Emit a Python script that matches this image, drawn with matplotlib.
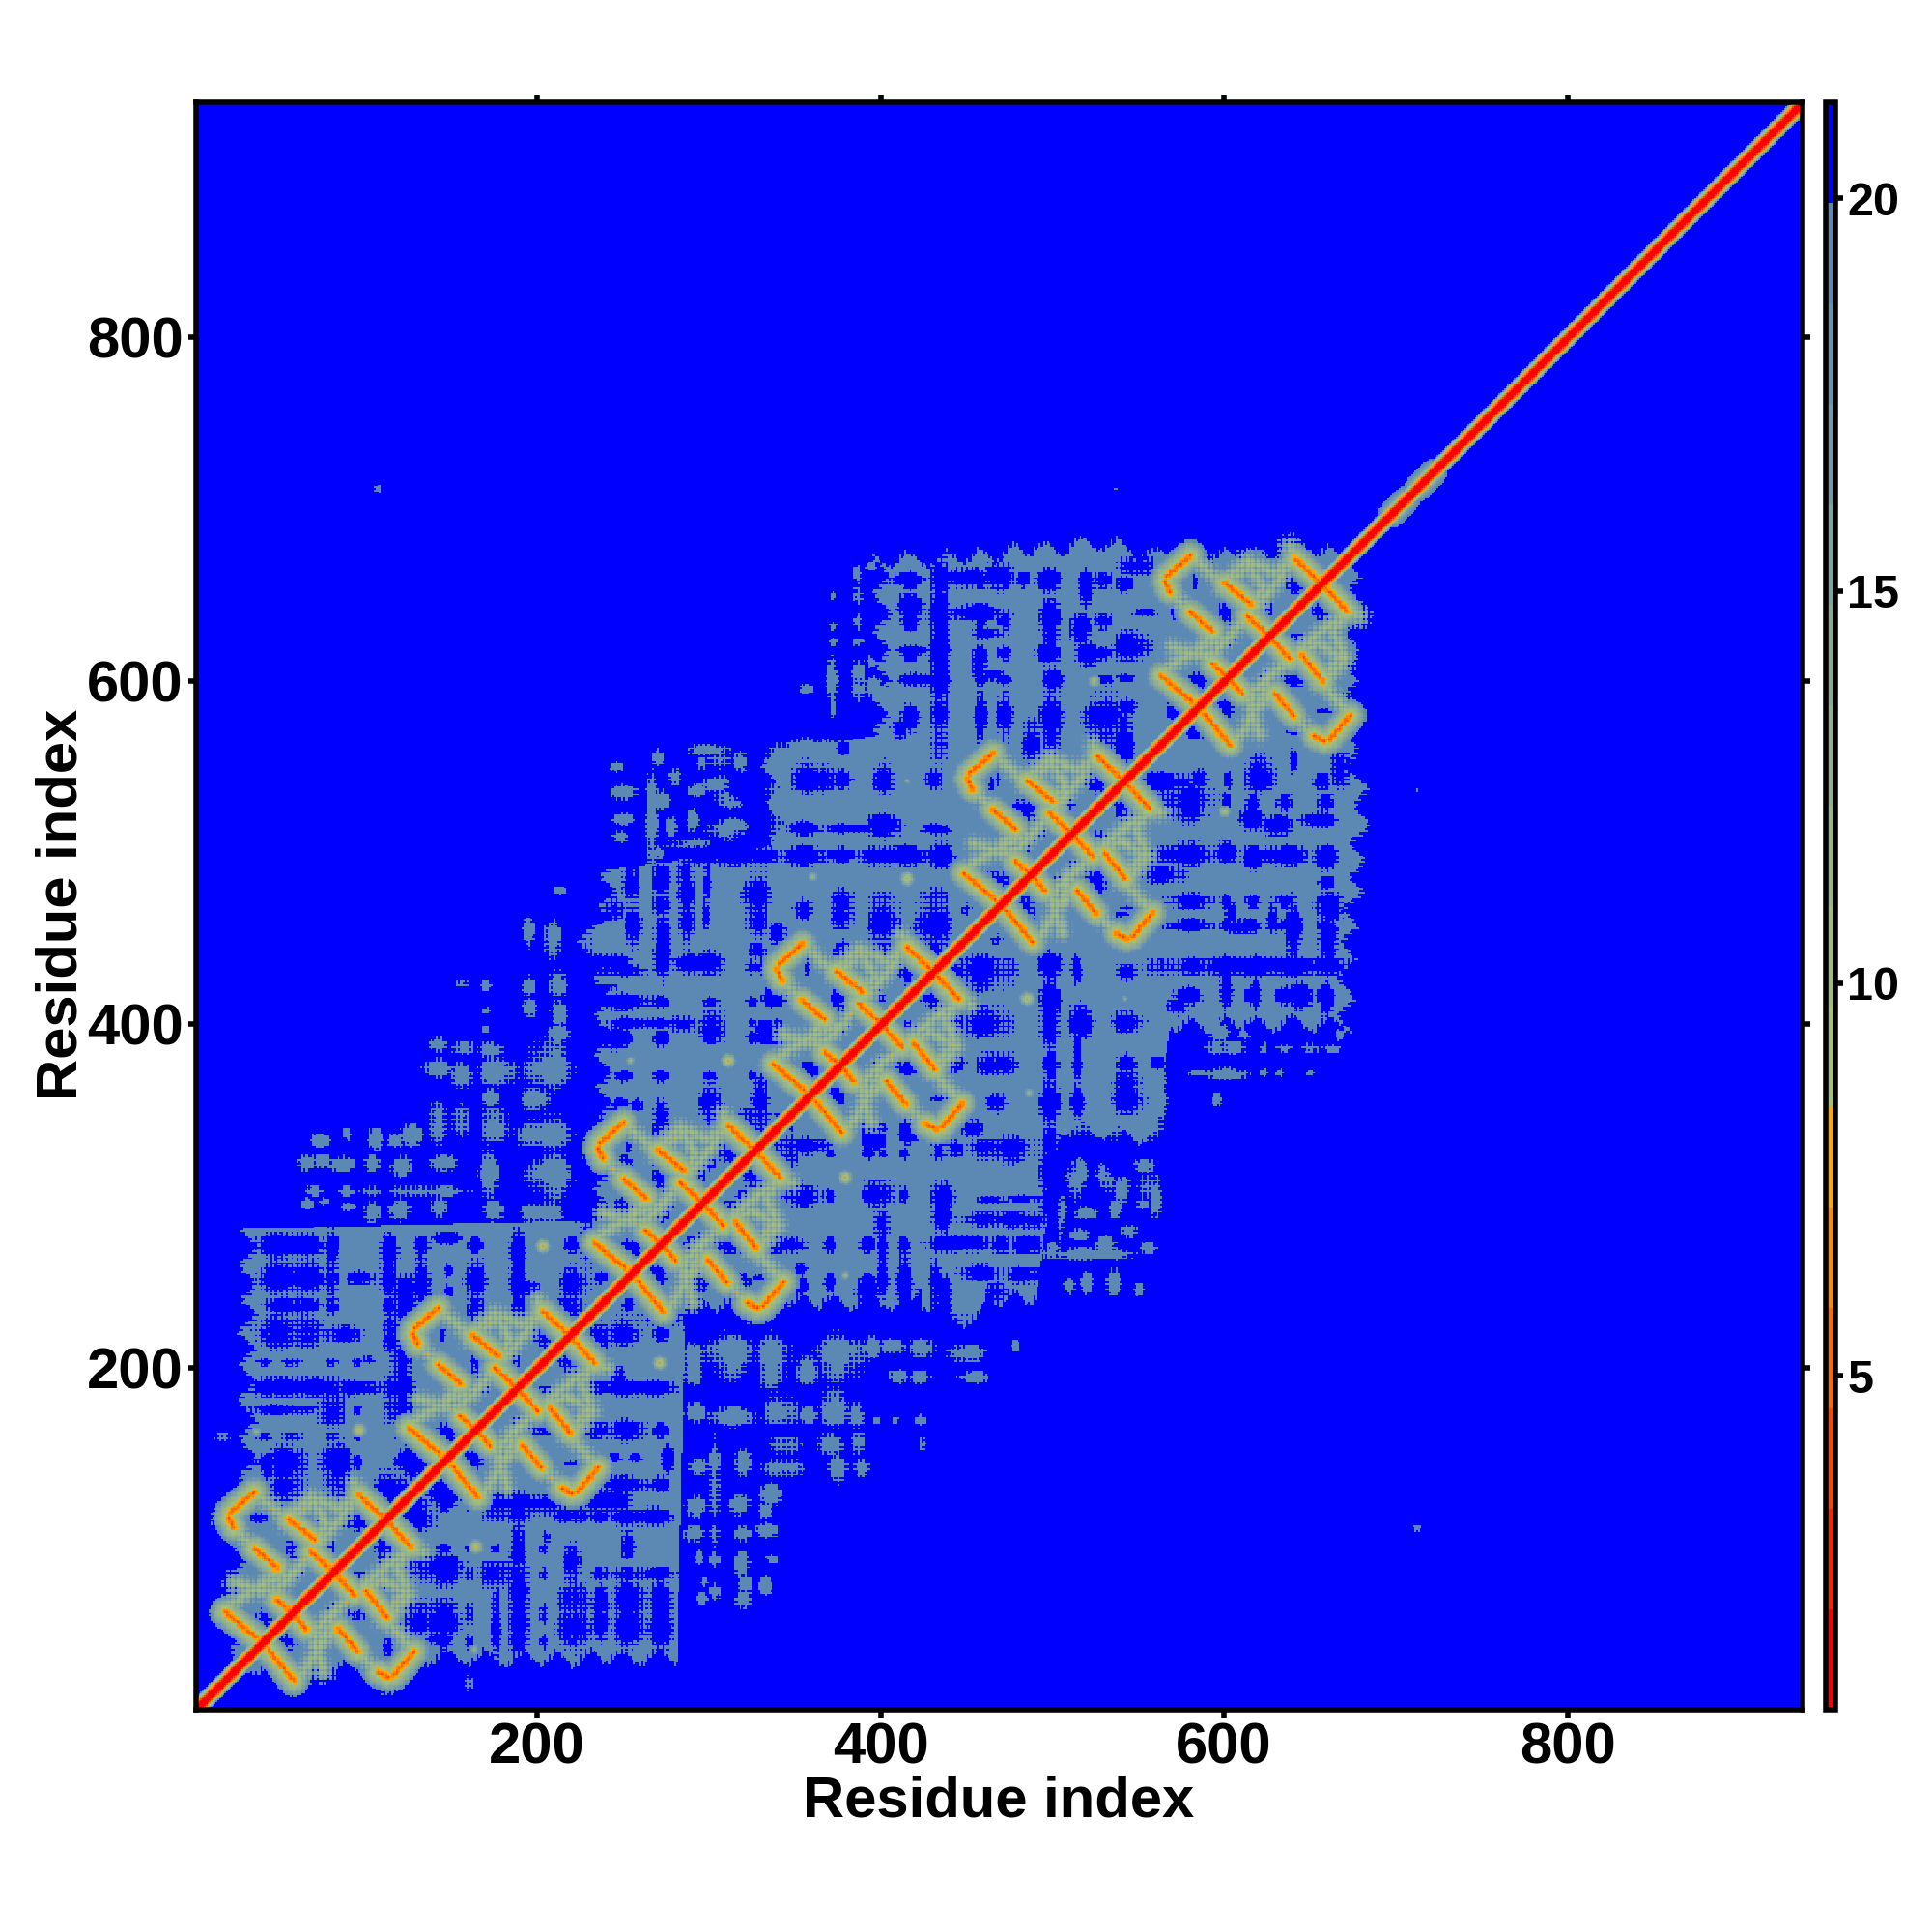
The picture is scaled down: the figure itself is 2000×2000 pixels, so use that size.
import numpy as np
from matplotlib import pyplot as plt
from matplotlib.colors import ListedColormap, BoundaryNorm

plt.rcParams['font.family'] = ['Liberation Sans', 'DejaVu Sans']
plt.rcParams['font.weight'] = 'bold'

n_res = 937

# colour levels
levels = [0.75, 2.03, 3.31, 4.59, 5.87, 7.15, 8.43, 9.71, 10.99, 12.27, 13.55,
          14.83, 16.11, 17.39, 18.67, 19.95, 21.23]
colours = ['#FF0000', '#FF2200', '#FF4400', '#FF6600', '#FF8800', '#FFA500',
           '#A5BE78', '#9FBA80', '#98B488', '#91AE8E', '#8AA994', '#80A29C',
           '#7598A6', '#688FAE', '#5C88B4', '#0000FF']

# outline of the solid part of the map, lower right triangle (col > row)
env_col = [24, 37, 128, 129, 281, 286, 432, 436, 457, 462, 470, 490, 505, 560, 568, 673, 676]
env_row = [22, 26, 26, 31, 31, 238, 238, 228, 228, 245, 240, 240, 340, 335, 400, 400, 400]
edge_row = [400, 445, 530, 560, 590, 650, 675]
edge_col = [670, 672, 680, 673, 672, 675, 672]

# blue holes inside the outline: col, row, half width, half height
holes_a = [(113, 97, 5, 9), (97, 62, 5, 6), (113, 37, 3, 4), (113, 73, 2, 2), (130, 115, 8, 8),
           (143, 82, 13, 7), (140, 55, 14, 8), (145, 128, 8, 8), (237, 219, 6, 6), (250, 220, 10, 5),
           (253, 237, 3, 3), (270, 254, 3, 3), (257, 188, 22, 4), (247, 193, 3, 7), (236, 163, 6, 4),
           (253, 163, 9, 5), (244, 148, 3, 2), (257, 148, 3, 2), (276, 147, 3, 8), (250, 133, 16, 4),
           (240, 122, 12, 6), (260, 114, 17, 4), (262, 80, 20, 3), (253, 97, 4, 6), (183, 119, 12, 7),
           (203, 120, 8, 5), (220, 115, 9, 4), (188, 95, 4, 10), (180, 80, 12, 6), (188, 72, 5, 10),
           (220, 85, 4, 13), (221, 55, 7, 18), (188, 57, 6, 10), (188, 40, 5, 6), (176, 50, 2.5, 18),
           (254, 57, 8, 18), (272, 55, 6, 17), (237, 58, 3, 15), (205, 101, 2, 3), (142, 42, 6, 3)]
holes_b = [(326, 311, 5, 6), (345, 326, 6, 7), (358, 329, 10, 4), (355, 301, 10, 5), (289, 272, 3, 4),
           (309, 273, 5, 4), (341, 272, 10, 4), (353, 258, 3, 3), (353, 248, 3, 4), (400, 302, 9, 6),
           (401, 283, 4, 7), (435, 301, 7, 6), (435, 287, 5, 7), (392, 333, 3, 8), (399, 331, 3, 6),
           (416, 338, 5, 6), (433, 329, 3, 5), (448, 342, 8, 4), (466, 328, 14, 4), (465, 298, 7, 2),
           (484, 299, 9, 2), (499, 312, 5, 25), (487, 285, 7, 4), (470, 286, 20, 4), (469, 272, 4, 5),
           (485, 272, 6, 5), (444, 273, 15, 4), (355, 228, 75, 4), (293, 223, 7, 6), (431, 240, 3, 6),
           (431, 254, 3, 8), (392, 242, 6, 8), (401, 257, 3, 15), (413, 250, 4, 14), (422, 239, 2, 6),
           (343, 234, 5, 5), (313, 230, 6, 6), (436, 240, 4, 11), (458, 256, 12, 4), (484, 255, 9, 4),
           (467, 243, 5, 6)]
holes_c = [(578, 529, 13, 8), (615, 522, 6, 6), (630, 516, 6, 6), (654, 520, 8, 4), (578, 500, 14, 6),
           (601, 501, 6, 5), (616, 498, 5, 6), (634, 499, 13, 5), (658, 498, 6, 6), (565, 487, 11, 4),
           (659, 483, 4, 3), (580, 471, 12, 4), (580, 458, 12, 3), (604, 466, 3, 5), (610, 457, 7, 4),
           (628, 463, 3, 9), (640, 456, 4, 13), (661, 468, 9, 6), (660, 450, 5, 9), (621, 433, 55, 5),
           (601, 424, 3, 11), (645, 417, 6, 7), (659, 415, 3, 9), (618, 419, 2, 8), (572, 410, 5, 4),
           (621, 546, 8, 8), (668, 549, 5, 8), (640, 553, 2, 5), (656, 542, 4, 4), (602, 543, 2, 4),
           (565, 542, 13, 5), (586, 544, 4, 5), (620, 571, 3, 2), (642, 571, 5, 2), (658, 571, 8, 2),
           (583, 570, 6, 3), (602, 573, 2, 2), (542, 525, 5, 3), (525, 483, 5, 6), (503, 483, 3, 4),
           (540, 464, 5, 1), (484, 466, 5, 4), (467, 449, 3, 3), (459, 430, 15, 8), (431, 415, 5, 5),
           (461, 402, 12, 7), (499, 434, 6, 7), (499, 410, 5, 18), (513, 432, 2, 7), (516, 402, 7, 7),
           (514, 381, 2, 10), (544, 402, 8, 5), (542, 380, 2, 3), (561, 378, 4, 3), (499, 378, 3, 8),
           (467, 378, 9, 6), (444, 380, 2, 3), (499, 354, 5, 12), (514, 355, 3, 8), (544, 360, 7, 11),
           (452, 340, 6, 4), (433, 327, 3, 5), (472, 327, 14, 6), (503, 323, 8, 9), (525, 325, 6, 6),
           (540, 318, 8, 6)]

# holes also line up in columns and rows: (centre, half size)
lattices = [([(237, 5), (254, 7), (272, 5)], [(220, 4), (188, 4), (163, 4), (133, 4), (114, 4), (80, 4), (57, 12)]),
            ([(578, 8), (601, 3), (616, 4), (634, 5), (658, 5)], [(529, 5), (500, 5), (471, 4), (458, 3), (417, 5)]),
            ([(444, 5), (467, 5), (499, 5), (514, 3), (544, 6)], [(430, 5), (402, 5), (378, 5), (355, 6), (327, 5)]),
            ([(295, 4), (320, 4), (345, 4), (370, 3), (392, 4), (401, 3), (413, 3), (433, 4)],
             [(340, 3), (325, 3), (301, 4), (272, 4), (250, 5)]),
            ([(145, 4), (160, 3), (176, 3), (188, 4), (203, 3), (220, 4)], [(120, 4), (95, 3), (80, 4), (57, 6), (40, 4)])]

# steel blue islands outside the outline: col, row, half width, half height
islands_a = [(290, 203, 6, 11), (312, 208, 13, 12), (337, 205, 9, 14), (358, 199, 7, 7), (376, 207, 13, 12),
             (395, 212, 4, 6), (406, 213, 6, 5), (424, 212, 6, 6), (409, 196, 5, 4), (423, 195, 5, 4),
             (450, 208, 9, 5), (454, 195, 8, 3), (478, 213, 2, 3), (292, 175, 6, 5), (313, 172, 13, 5),
             (342, 176, 9, 8), (358, 173, 5, 4), (373, 177, 9, 9), (385, 173, 4, 7), (398, 170, 2, 2),
             (408, 170, 2, 2), (423, 170, 3, 3), (303, 140, 3, 20), (320, 144, 4, 8), (344, 156, 8, 5),
             (343, 141, 10, 5), (370, 156, 8, 5), (375, 141, 5, 7), (386, 157, 4, 6), (388, 141, 4, 5),
             (294, 142, 5, 4), (424, 156, 2, 4), (336, 127, 6, 6), (318, 120, 6, 5), (332, 117, 4, 4),
             (292, 119, 6, 5), (303, 119, 3, 5), (290, 103, 6, 4), (303, 102, 3, 6), (320, 103, 5, 4),
             (333, 105, 6, 4), (294, 90, 2, 4), (303, 89, 3, 5), (319, 85, 4, 8), (337, 89, 3, 2),
             (321, 75, 4, 5), (332, 74, 4, 5), (297, 76, 2, 3), (303, 70, 3, 5), (320, 65, 4, 5),
             (296, 66, 3, 3), (160, 16, 3, 4), (712, 107, 2, 2), (712, 536, 1, 1)]
islands_b = [(513, 313, 6, 12), (531, 312, 5, 10), (551, 318, 7, 4), (552, 296, 3, 3), (536, 293, 3, 5),
             (515, 278, 6, 3), (530, 272, 5, 6), (520, 266, 25, 3), (535, 250, 3.5, 8), (509, 248, 3, 4),
             (596, 396, 5, 5), (611, 394, 3, 2), (667, 394, 2, 3), (594, 386, 6, 4), (606, 386, 6, 4),
             (623, 386, 2, 3), (634, 386, 4, 2), (650, 386, 5, 3), (663, 386, 5, 2), (601, 371, 11, 3),
             (623, 372, 2, 2), (632, 372, 2, 2), (650, 372, 2, 2), (588, 372, 8, 1.5), (595, 357, 3, 4),
             (540, 305, 5, 8), (553, 305, 4, 6), (520, 290, 6, 3), (545, 280, 5, 4), (560, 300, 3, 10),
             (505, 290, 3, 15), (520, 250, 3, 6), (550, 245, 3, 5), (555, 270, 4, 3), (500, 270, 3, 3),
             (505, 345, 14, 8), (530, 345, 12, 9), (555, 345, 8, 9), (562, 360, 4, 18)]

# domains repeat the same pattern, shift from the second domain
domain_shift = [-107, 0, 108, 212, 323, 438]

# orange contact stripes of one domain: col0, row0, col1, row1
stripes = [(150, 143, 165, 125), (191, 155, 202, 142), (207, 177, 219, 162), (189, 187, 200, 175),
           (219, 218, 233, 203), (223, 128, 235, 142), (214, 130, 220, 127), (165, 163, 172, 155)]
# paler rings joining them
ring_lines = [[(165, 124), (172, 132), (181, 147), (191, 155), (203, 141), (214, 130), (219, 125), (223, 128),
               (235, 142), (219, 160), (232, 175), (225, 191), (233, 203), (240, 200)],
              [(200, 175), (188, 165), (181, 147)], [(170, 155), (181, 147)], [(232, 175), (216, 184), (208, 178), (200, 175)],
              [(182, 131), (177, 146), (179, 156), (188, 165)], [(216, 160), (229, 176)],
              [(203, 178), (218, 191), (235, 203)]]
# holes that come back in every domain
domain_holes = [(219, 203, 5, 4), (188, 162, 3, 6), (203, 165, 5, 4), (161, 146, 4, 4), (204, 187, 3, 2), (220, 145, 3, 1)]

# isolated spots: col, row, radius, lowest value
hot_spots = [(379, 311, 5, 7), (379, 254, 3, 12), (600, 524, 4, 10), (485, 415, 5, 7), (486, 360, 3, 11),
             (542, 415, 2, 14), (271, 203, 5, 7), (164, 96, 5, 8), (163, 36, 3, 13)]

# main diagonal profile, value by distance |i-j|
band_offset = [0, 1, 2, 3, 4, 5, 6, 7]
band_value = [1, 1, 1.8, 4, 6.5, 9, 13, 19]
# wider places of the diagonal: first, last, core value, slope
diag_bumps = [(697, 706, 9, 1.4), (712, 722, 9, 1.4), (805, 815, 9, 2.5), (870, 880, 9, 2.5), (24, 675, 12, 1.8)]

# cross hatch seen on all edges and rings, and the larger lumps of the outline
weave = [0.9, -0.6, -0.5, 0.8, -0.7, -0.2, 0.9, -0.5, -0.6, 0.7, -0.8, 0.1, 0.8, -0.6, -0.4, 0.9, -0.7, -0.3]
lumps = [3, 4, 2, -2, -4, -3, 1, 4, 5, 3, -1, -3, -4, -1, 2, 5, 3, 0, -3, -5, -3, 1, 3, 4, 1, -2, -4, -2,
         1, 4, 2, -1, -5, -4, 0, 3, 5, 2, -2, -3, 1]

xticks = [200, 400, 600, 800]
cbar_ticks = [5, 10, 15, 20]

res = np.arange(1, n_res + 1)
w = np.array(weave)[res % len(weave)]
lump = np.array(lumps)[(res // 3) % len(lumps)]
cols, rows = np.meshgrid(res, res)
wc, wr = w[cols - 1], w[rows - 1]
lc, lr = lump[cols - 1], lump[rows - 1]

dist = np.full((n_res, n_res), 21.0)

low = np.interp(res, env_col, env_row) + lump + 1.5 * w
high = np.interp(res, edge_row, edge_col) + lump + 1.5 * w
solid = (cols > rows) & (rows >= low[cols - 1]) & (cols <= high[rows - 1]) & (cols <= 684)
dist[solid] = 19


def paint_blobs(blobs, value, grow=1.0):
    for c, r, hw, hh in blobs:
        e = ((cols - c) / (hw * grow)) ** 2 + ((rows - r) / (hh * grow)) ** 2
        dist[e < 1 + 0.4 * (wc + wr) + 0.07 * (lc + lr)] = value


paint_blobs(islands_a, 19)
paint_blobs(islands_b, 19)
paint_blobs(holes_a, 21, 1.15)
paint_blobs(holes_b, 21, 1.15)
paint_blobs(holes_c, 21, 1.15)
for lat_cols, lat_rows in lattices:
    paint_blobs([(c, r, hw, hh) for c, hw in lat_cols for r, hh in lat_rows], 21)
for shift in domain_shift:
    paint_blobs([(c + shift, r + shift, hw, hh) for c, r, hw, hh in domain_holes], 21, 1.3)


def stamp(c0, r0, c1, r1, v0, slope, hatch=0.0):
    m = int((19.95 - v0) / slope) + 4
    cl, ch = max(min(c0, c1) - m, 1), min(max(c0, c1) + m, n_res)
    rl, rh = max(min(r0, r1) - m, 1), min(max(r0, r1) + m, n_res)
    cc, rr = cols[rl - 1:rh, cl - 1:ch], rows[rl - 1:rh, cl - 1:ch]
    dc, dr = c1 - c0, r1 - r0
    t = np.clip(((cc - c0) * dc + (rr - r0) * dr) / max(dc * dc + dr * dr, 1), 0, 1)
    d = np.hypot(cc - c0 - t * dc, rr - r0 - t * dr)
    v = v0 + slope * d + hatch * (w[cc - 1] + w[rr - 1])
    v[v > 19.9] = 99
    dist[rl - 1:rh, cl - 1:ch] = np.minimum(dist[rl - 1:rh, cl - 1:ch], v)


for c, r, rad, v0 in hot_spots:
    stamp(c, r, c, r, v0, (19.5 - v0) / rad, 0.5)

for shift in domain_shift:
    for line in ring_lines:
        for (c0, r0), (c1, r1) in zip(line[:-1], line[1:]):
            stamp(c0 + shift, r0 + shift, c1 + shift, r1 + shift, 12, 1.3, 2.5)
    for c0, r0, c1, r1 in stripes:
        stamp(c0 + shift, r0 + shift, c1 + shift, r1 + shift, 5, 1.6, 0.6)

for first, last, v0, slope in diag_bumps:
    stamp(first, first, last, last, v0, slope, 0.3 if last - first > 100 else 0)

# keep the lower right triangle, then mirror it
upper = cols <= rows
dist[upper] = dist.T[upper]
band = np.interp(np.abs(cols - rows), band_offset + [8], band_value + [99])
dist = np.minimum(dist, band)

cmap = ListedColormap(colours)
norm = BoundaryNorm(levels, cmap.N)

fig = plt.figure(figsize=(20, 20), dpi=100)
ax = fig.add_axes([202.5 / 2000, 1 - 1769.5 / 2000, (1866 - 202.5) / 2000, (1769.5 - 105.5) / 2000])
im = ax.imshow(dist, origin='lower', cmap=cmap, norm=norm, interpolation='nearest',
               extent=[0.5, n_res + 0.5, 0.5, n_res + 0.5], aspect='auto')
ax.set_xlim(1, n_res)
ax.set_ylim(1, n_res)
ax.set_xticks(xticks)
ax.set_yticks(xticks)
ax.tick_params(axis='both', which='major', length=6, width=4, top=True, right=True, pad=3, labelsize=43)
for lab in ax.get_xticklabels() + ax.get_yticklabels():
    lab.set_fontweight('bold')
for sp in ax.spines.values():
    sp.set_linewidth(4)

fig.text(1034 / 2000, 1 - 1865 / 2000, 'Residue index', fontsize=43, fontweight='bold', ha='center', va='center')
fig.text(64 / 2000, 1 - 936 / 2000, 'Residue index', fontsize=43, fontweight='bold', ha='center', va='center',
         rotation=90)

cax = fig.add_axes([1889.5 / 2000, 1 - 1769.5 / 2000, 11 / 2000, (1769.5 - 105.5) / 2000])
cb = fig.colorbar(im, cax=cax, ticks=cbar_ticks, spacing='proportional')
cb.minorticks_off()
cb.outline.set_linewidth(4)
cax.tick_params(axis='y', length=5.5, width=4, pad=3, labelsize=35)
for lab in cax.get_yticklabels():
    lab.set_fontweight('bold')

fig.savefig('out.png', dpi=100)
